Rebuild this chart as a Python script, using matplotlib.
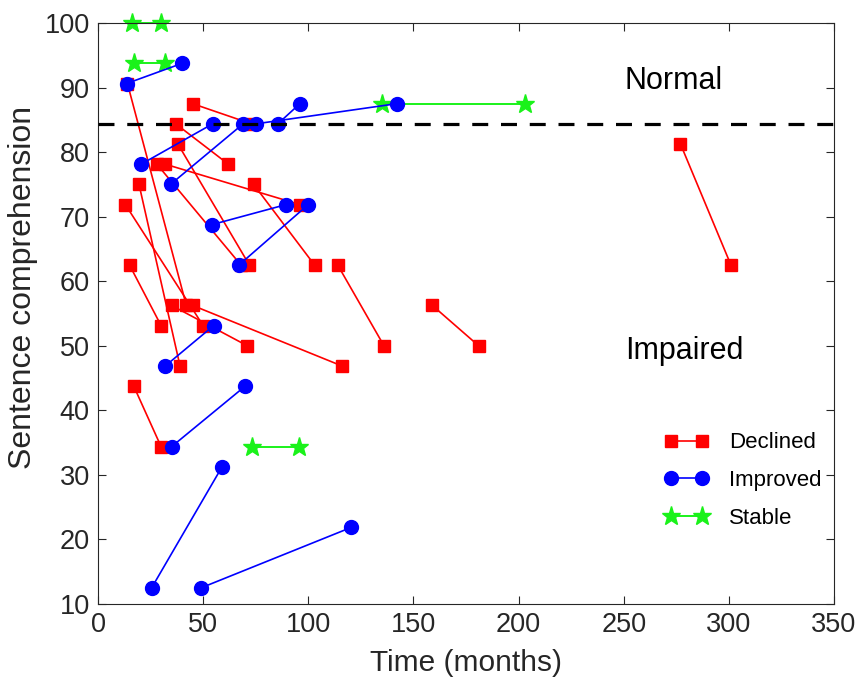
import matplotlib
matplotlib.use("Agg")
import matplotlib.pyplot as plt
from matplotlib.lines import Line2D

# ---- data: each patient = (time0, score0) -> (time1, score1) ----
declined_t0 = [14, 45, 37, 38, 32, 28, 19.5, 74, 13, 114, 15, 45, 35, 159, 17, 277]
declined_s0 = [90.625, 87.5, 84.375, 81.25, 78.125, 78.125, 75, 75, 71.875, 62.5, 62.5, 56.25, 56.25, 56.25, 43.75, 81.25]
declined_t1 = [42, 73, 62, 72, 96, 68, 39, 103, 50, 136, 30, 116, 71, 181, 30, 301]
declined_s1 = [56.25, 84.375, 78.125, 62.5, 71.875, 62.5, 46.875, 62.5, 53.125, 50, 53.125, 46.875, 50, 50, 34.375, 62.5]

improved_t0 = [13.6, 20.5, 34.5, 75, 85.5, 54, 67, 32, 35, 25.5, 49]
improved_s0 = [90.625, 78.125, 75, 84.375, 84.375, 68.75, 62.5, 46.875, 34.375, 12.5, 12.5]
improved_t1 = [40, 54.5, 69, 142, 96, 89.5, 100, 55, 70, 59, 120.5]
improved_s1 = [93.75, 84.375, 84.375, 87.5, 87.5, 71.875, 71.875, 53.125, 43.75, 31.25, 21.875]

stable_t0 = [16.3, 17, 135, 73]
stable_s0 = [100, 93.75, 87.5, 34.375]
stable_t1 = [30.1, 31.7, 203, 95.6]
stable_s1 = [100, 93.75, 87.5, 34.375]

cutoff = 84.375
x_ticks = [0, 50, 100, 150, 200, 250, 300, 350]
y_ticks = [10, 20, 30, 40, 50, 60, 70, 80, 90, 100]

plt.rcParams['font.family'] = ['Liberation Sans', 'DejaVu Sans']

fig = plt.figure(figsize=(8.59, 6.82), dpi=100)
ax = fig.add_axes([98/859, 1-604/682, (834-98)/859, (604-23)/682])

RED = (1, 0, 0)
BLUE = (0, 0, 1)
GREEN = (0.1, 0.95, 0.1)
DARK = (0.15, 0.15, 0.15)

for a, b, c, d in zip(stable_t0, stable_s0, stable_t1, stable_s1):
    ax.plot([a, c], [b, d], '-', color=GREEN, lw=1.4, marker='*', ms=14,
            mec=GREEN, mfc=GREEN, zorder=2, clip_on=False)
for a, b, c, d in zip(declined_t0, declined_s0, declined_t1, declined_s1):
    ax.plot([a, c], [b, d], '-', color=RED, lw=1.2, marker='s', ms=8.5,
            mec=RED, mfc=RED, zorder=3, clip_on=False)
for a, b, c, d in zip(improved_t0, improved_s0, improved_t1, improved_s1):
    ax.plot([a, c], [b, d], '-', color=BLUE, lw=1.2, marker='o', ms=10,
            mec=BLUE, mfc=BLUE, zorder=4, clip_on=False)

ax.axhline(cutoff, color='black', lw=2.3, dashes=(5, 4), zorder=5)

ax.text(250.5, 91.0, 'Normal', fontsize=22, va='center', ha='left')
ax.text(250.5, 49.2, 'Impaired', fontsize=22, va='center', ha='left')

ax.set_xlim(0, 350)
ax.set_ylim(10, 100)
ax.set_xticks(x_ticks)
ax.set_yticks(y_ticks)
ax.tick_params(direction='in', length=6, width=0.8, top=True, right=True,
               labelsize=19.5, colors=DARK, pad=6)
for sp in ax.spines.values():
    sp.set_color(DARK)
    sp.set_linewidth(0.8)

ax.set_xlabel('Time (months)', fontsize=21.5, color=DARK, labelpad=8)
fig.text(23/859, 1-287/682, 'Sentence comprehension', fontsize=23, color=DARK,
         rotation=90, ha='center', va='center')

handles = [
    Line2D([], [], color=RED, lw=1.2, marker='s', ms=8.5),
    Line2D([], [], color=BLUE, lw=1.2, marker='o', ms=10),
    Line2D([], [], color=GREEN, lw=1.4, marker='*', ms=14),
]
ax.legend(handles, ['Declined', 'Improved', 'Stable'], loc='lower right',
          bbox_to_anchor=(1.01, 0.095), frameon=False, fontsize=16,
          handlelength=2.0, labelspacing=0.75, handletextpad=0.9, numpoints=2)

fig.savefig('out.png', dpi=100)
